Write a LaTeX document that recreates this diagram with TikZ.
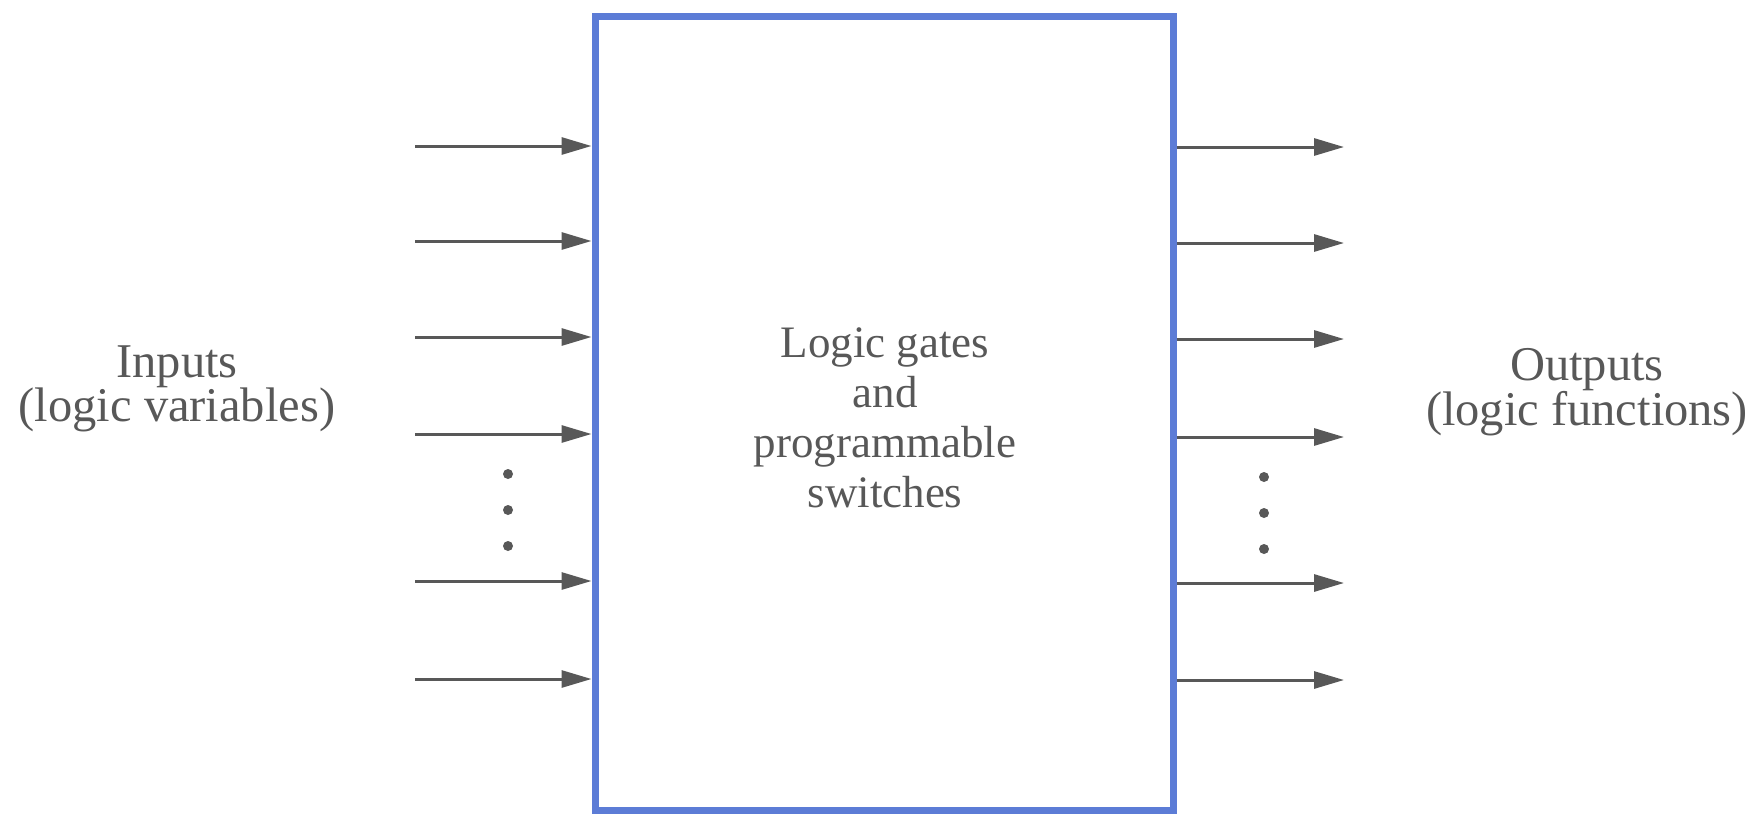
\documentclass[tikz,border=0pt]{standalone}
\usepackage{fontspec}
\setmainfont{Liberation Serif}
\usetikzlibrary{arrows.meta}
\definecolor{boxblue}{RGB}{92,124,214}
\definecolor{ink}{RGB}{88,88,88}
\tikzset{
  sig/.style={draw=ink, line width=3pt, -{Triangle[length=30pt,width=17pt]}},
  lbl/.style={text=ink, align=center, inner sep=0pt},
  sidelbl/.style={lbl, font=\fontsize{48.5}{44}\selectfont},
  corelbl/.style={lbl, font=\fontsize{45}{50}\selectfont},
  gap/.style={fill=ink, circle, inner sep=0pt, minimum size=10pt},
}
\begin{document}
\begin{tikzpicture}[x=1pt, y=-1pt]
  \useasboundingbox (0,0) rectangle (1759,815);
  % the programmable block
  \node[draw=boxblue, line width=7pt, minimum width=578pt, minimum height=794pt,
        inner sep=0pt] (blk) at (884,413) {};
  \node[corelbl] (core) at (885,418) {Logic gates\\and\\programmable\\switches};

  % side labels
  \node[sidelbl] (inlbl) at (177,389) {Inputs\\(logic variables)};
  \node[sidelbl] (outlbl) at (1587,392) {Outputs\\(logic functions)};

  % input lines
  \foreach \i/\y in {1/146, 2/241, 3/337, 4/434, 5/581, 6/679} {
    \coordinate (in\i) at (415,\y);
    \draw[sig] (in\i) -- (in\i -| blk.west);
  }
  % output lines
  \foreach \i/\y in {1/147, 2/243, 3/339, 4/437, 5/583, 6/680} {
    \coordinate (out\i) at (1344,\y);
    \draw[sig] (out\i -| blk.east) -- (out\i);
  }

  % ellipses between the lines
  \foreach \i/\y in {1/474, 2/510, 3/546} {
    \node[gap] (ldot\i) at (508,\y) {};
  }
  \foreach \i/\y in {1/477, 2/513, 3/549} {
    \node[gap] (rdot\i) at (1264,\y) {};
  }
\end{tikzpicture}
\end{document}
